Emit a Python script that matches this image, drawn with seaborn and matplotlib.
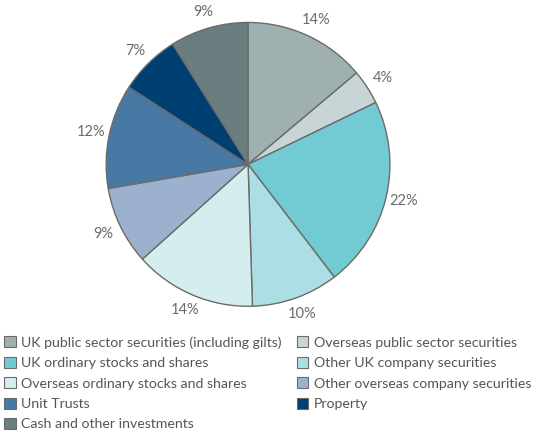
import matplotlib
matplotlib.use("Agg")
import numpy as np
import matplotlib.pyplot as plt
import matplotlib.patches as mpatches
import seaborn as sns

# Pension fund asset allocation (%)
categories = [
    "UK public sector securities (including gilts)",
    "Overseas public sector securities",
    "UK ordinary stocks and shares",
    "Other UK company securities",
    "Overseas ordinary stocks and shares",
    "Other overseas company securities",
    "Unit Trusts",
    "Property",
    "Cash and other investments",
]
shares = [14, 4, 22, 10, 14, 9, 12, 7, 9]
pct_labels = ["14%", "4%", "22%", "10%", "14%", "9%", "12%", "7%", "9%"]
colors = ["#9fb0b0", "#c9d4d6", "#72cbd3", "#acdfe3", "#d4eef0",
          "#9bb1cd", "#4878a4", "#003f72", "#6a7d7f"]

sns.set_theme(style="white")
plt.rcParams["font.family"] = ["Lato", "DejaVu Sans"]

fig = plt.figure(figsize=(5.5, 4.32), dpi=100)
ax = fig.add_axes([0.193, 0.291, 0.516, 0.657])

wedges, texts = ax.pie(
    shares, colors=colors, startangle=90, counterclock=False,
    wedgeprops=dict(edgecolor="#6b6b6b", linewidth=1.0),
)
# percentage labels just outside each wedge
for w, lab in zip(wedges, pct_labels):
    ang = np.deg2rad((w.theta1 + w.theta2) / 2)
    ax.text(1.13 * np.cos(ang), 1.12 * np.sin(ang), lab, ha="center", va="center",
            fontsize=10.5, color="#6b6b6b")
ax.set_xlim(-1, 1)
ax.set_ylim(-1, 1)
ax.set_aspect("equal")
ax.axis("off")

handles = [mpatches.Patch(facecolor=c, edgecolor="#6b6b6b", linewidth=0.8) for c in colors]
order = [0, 2, 4, 6, 8, 1, 3, 5, 7]
leg = fig.legend([handles[i] for i in order], [categories[i] for i in order],
                 loc="upper left", bbox_to_anchor=(0.0, 1 - 332 / 432), ncol=2,
                 frameon=False, fontsize=10.2, handlelength=0.8, handleheight=0.8,
                 handletextpad=0.4, labelspacing=0.57, columnspacing=1.05,
                 borderaxespad=0.0, borderpad=0.3)
for t in leg.get_texts():
    t.set_color("#555555")

fig.savefig("out.png", dpi=100)
